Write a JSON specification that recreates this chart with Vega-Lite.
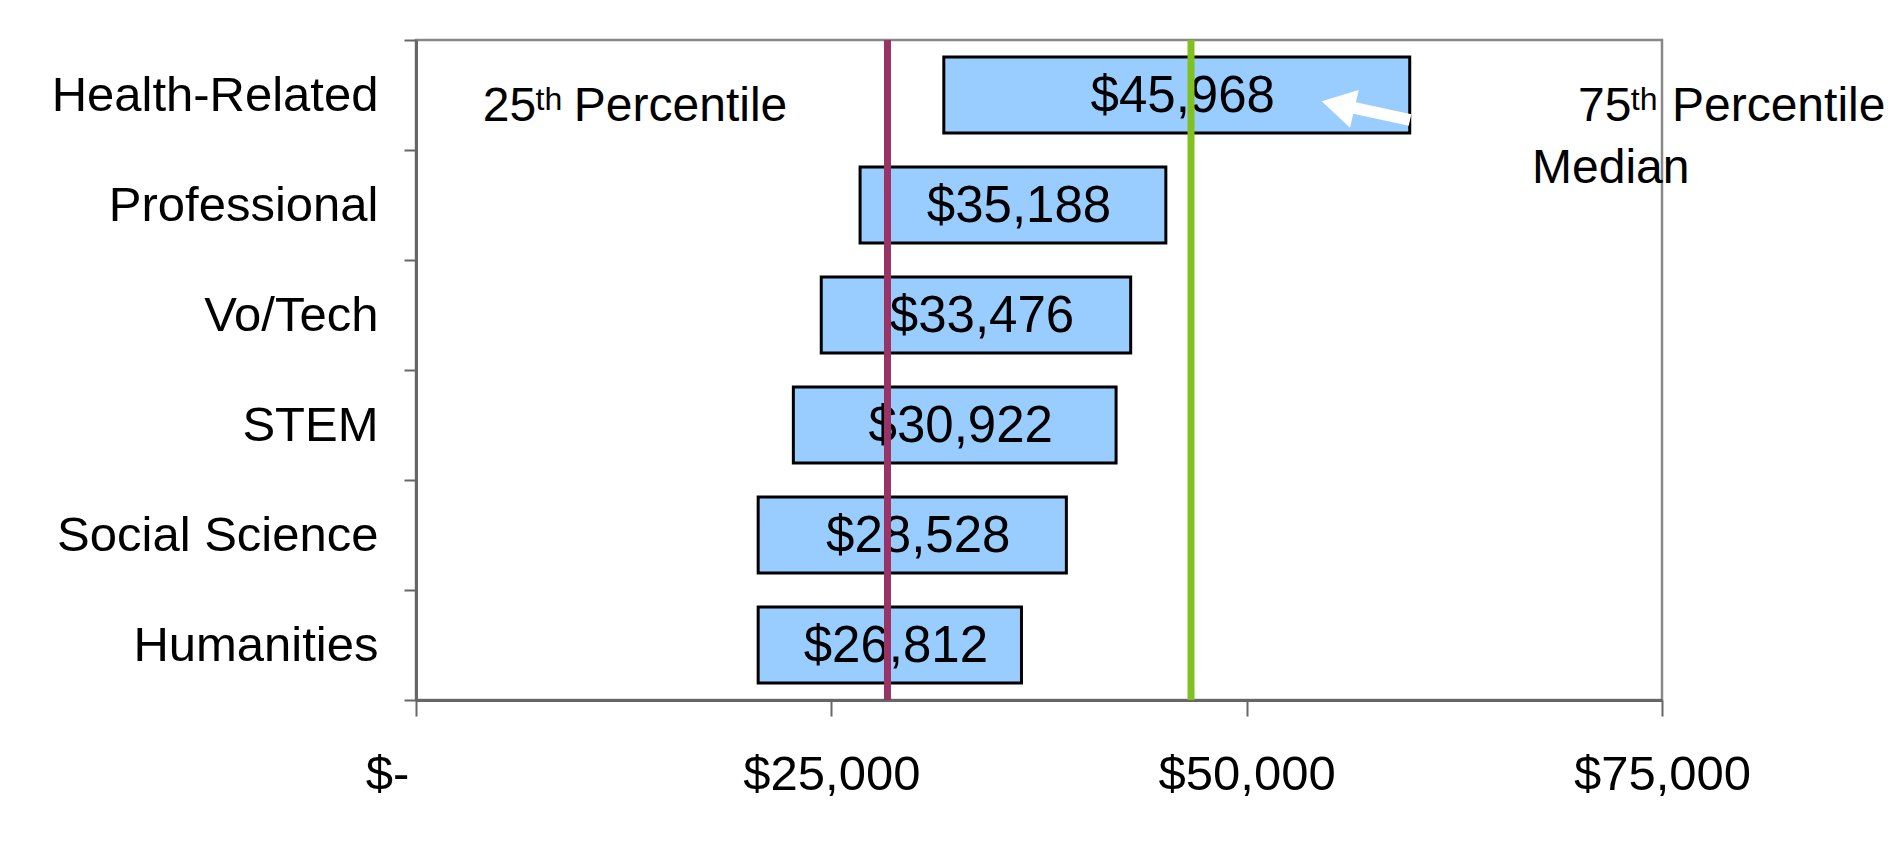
{
  "$schema": "https://vega.github.io/schema/vega-lite/v6.json",
  "autosize": {"type": "none"},
  "width": 1246,
  "height": 660,
  "padding": {"left": 416, "top": 40, "right": 240, "bottom": 150},
  "background": "white",
  "config": {
    "font": "Liberation Sans",
    "view": {"stroke": "#888888", "strokeWidth": 2.5}
  },
  "datasets": {
    "bars": [
      {"cat": "Health-Related", "low": 31770, "high": 59815, "label": "$45,968"},
      {"cat": "Professional", "low": 26730, "high": 45135, "label": "$35,188"},
      {"cat": "Vo/Tech", "low": 24393, "high": 43018, "label": "$33,476"},
      {"cat": "STEM", "low": 22714, "high": 42140, "label": "$30,922"},
      {"cat": "Social Science", "low": 20596, "high": 39147, "label": "$28,528"},
      {"cat": "Humanities", "low": 20596, "high": 36445, "label": "$26,812"}
    ],
    "refs": [
      {"line": "quartile", "value": 28380},
      {"line": "median", "value": 46650}
    ],
    "arrow": [
      {"cat": "Health-Related", "head": 56220, "tail": 59832, "tip": 55500}
    ],
    "notes": [
      {"cat": "Health-Related", "kind": "main", "text": "25", "x": 4020},
      {"cat": "Health-Related", "kind": "sup", "text": "th", "x": 7200},
      {"cat": "Health-Related", "kind": "main", "text": "Percentile", "x": 9500},
      {"cat": "Health-Related", "kind": "main", "text": "75", "x": 69944},
      {"cat": "Health-Related", "kind": "sup", "text": "th", "x": 73120},
      {"cat": "Health-Related", "kind": "main", "text": "Percentile", "x": 75600},
      {"cat": "Health-Related", "kind": "median", "text": "Median", "x": 67175}
    ]
  },
  "encoding": {
    "y": {
      "field": "cat",
      "type": "nominal",
      "scale": {
        "domain": ["Health-Related", "Professional", "Vo/Tech", "STEM", "Social Science", "Humanities"],
        "paddingInner": 0,
        "paddingOuter": 0
      },
      "axis": {
        "title": null,
        "labelFontSize": 49,
        "labelLimit": 0,
        "labelColor": "black",
        "labelPadding": 26,
        "tickSize": 12,
        "tickBand": "extent",
        "tickColor": "#666666",
        "tickWidth": 2,
        "domainColor": "#666666",
        "domainWidth": 3
      }
    }
  },
  "layer": [
    {
      "data": {"name": "bars"},
      "mark": {"type": "bar", "fill": "#99CCFF", "stroke": "black", "strokeWidth": 3, "height": {"band": 0.69}},
      "encoding": {
        "x": {
          "field": "low",
          "type": "quantitative",
          "scale": {"domain": [0, 75000], "nice": false, "zero": true},
          "axis": {
            "title": null,
            "values": [0, 25000, 50000, 75000],
            "labelExpr": "datum.value == 0 ? '$-' : '$' + format(datum.value, ',')",
            "labelOffset": {"condition": {"test": "datum.value == 0", "value": -29}, "value": 0},
            "labelFontSize": 49,
            "labelColor": "black",
            "labelPadding": 34,
            "labelFlush": false,
            "tickSize": 16,
            "tickColor": "#666666",
            "tickWidth": 2,
            "domainColor": "#666666",
            "domainWidth": 3,
            "grid": false
          }
        },
        "x2": {"field": "high"}
      }
    },
    {
      "data": {"name": "bars"},
      "transform": [
        {"fold": ["low", "high"], "as": ["end", "v"]},
        {"aggregate": [{"op": "mean", "field": "v", "as": "mid"}], "groupby": ["cat", "label"]}
      ],
      "mark": {"type": "text", "fontSize": 51, "color": "black", "baseline": "middle", "align": "center", "dx": 6, "dy": 2},
      "encoding": {
        "x": {"field": "mid", "type": "quantitative"},
        "text": {"field": "label"}
      }
    },
    {
      "data": {"name": "refs"},
      "mark": {"type": "rule", "strokeWidth": 7},
      "encoding": {
        "x": {"field": "value", "type": "quantitative"},
        "y": null,
        "color": {
          "field": "line",
          "type": "nominal",
          "scale": {"domain": ["quartile", "median"], "range": ["#993366", "#80C11F"]},
          "legend": null
        }
      }
    },
    {
      "data": {"name": "arrow"},
      "mark": {"type": "rule", "color": "white", "strokeWidth": 12, "yOffset": 12, "y2Offset": 25},
      "encoding": {
        "x": {"field": "head", "type": "quantitative"},
        "x2": {"field": "tail"},
        "y2": {"field": "cat"}
      }
    },
    {
      "data": {"name": "arrow"},
      "mark": {"type": "point", "shape": "triangle-left", "filled": true, "color": "white", "opacity": 1, "size": 1500, "angle": 13, "yOffset": 10},
      "encoding": {
        "x": {"field": "tip", "type": "quantitative"}
      }
    },
    {
      "data": {"name": "notes"},
      "transform": [{"filter": "datum.kind == 'main'"}],
      "mark": {"type": "text", "fontSize": 48, "color": "black", "align": "left", "baseline": "alphabetic", "dy": 26},
      "encoding": {
        "x": {"field": "x", "type": "quantitative"},
        "text": {"field": "text"}
      }
    },
    {
      "data": {"name": "notes"},
      "transform": [{"filter": "datum.kind == 'sup'"}],
      "mark": {"type": "text", "fontSize": 32, "color": "black", "align": "left", "baseline": "alphabetic", "dy": 15},
      "encoding": {
        "x": {"field": "x", "type": "quantitative"},
        "text": {"field": "text"}
      }
    },
    {
      "data": {"name": "notes"},
      "transform": [{"filter": "datum.kind == 'median'"}],
      "mark": {"type": "text", "fontSize": 48, "color": "black", "align": "left", "baseline": "alphabetic", "dy": 88},
      "encoding": {
        "x": {"field": "x", "type": "quantitative"},
        "text": {"field": "text"}
      }
    }
  ]
}
